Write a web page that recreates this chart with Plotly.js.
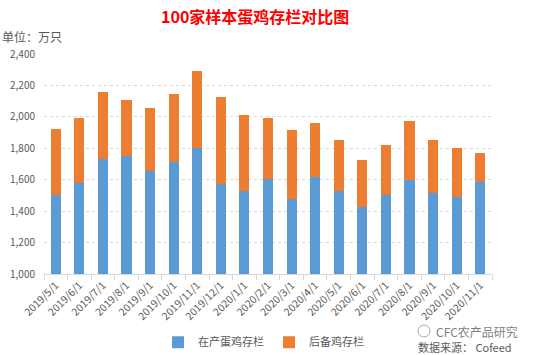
<!DOCTYPE html>
<html><head><meta charset="utf-8">
<script src="https://cdn.plot.ly/plotly-3.0.1.min.js"></script>
<style>body{margin:0;background:#fff}#c{width:535px;height:355px}</style>
</head><body><div id="c"></div>
<script>
const categories = ["2019/5/1","2019/6/1","2019/7/1","2019/8/1","2019/9/1","2019/10/1","2019/11/1","2019/12/1","2020/1/1","2020/2/1","2020/3/1","2020/4/1","2020/5/1","2020/6/1","2020/7/1","2020/8/1","2020/9/1","2020/10/1","2020/11/1"];
const layingHens = [1505,1579,1732,1749,1653,1713,1804,1573,1530,1607,1475,1615,1530,1426,1505,1596,1513,1488,1583];
const reserveHens = [420,414,426,360,401,435,488,554,480,386,439,348,323,300,318,380,340,316,185];
const yTicks = [1000,1200,1400,1600,1800,2000,2200,2400];
const yTickText = ["1,000","1,200","1,400","1,600","1,800","2,000","2,200","2,400"];

const font = "Microsoft YaHei, 'Noto Sans CJK SC', sans-serif";
const data = [
  {type:"bar", name:"在产蛋鸡存栏", x:categories, y:layingHens, marker:{color:"#5B9BD5"}},
  {type:"bar", name:"后备鸡存栏", x:categories, y:reserveHens, marker:{color:"#ED7D31"}}
];
const layout = {
  width:535, height:355,
  margin:{l:44, r:43, t:54, b:81, autoexpand:false},
  paper_bgcolor:"#fff", plot_bgcolor:"#fff",
  barmode:"stack", bargap:0.57,
  font:{family:font, color:"#595959", size:11},
  showlegend:true,
  legend:{orientation:"h", x:0.49, xanchor:"center", y:-0.31, yanchor:"middle", font:{size:11, color:"#595959"}, itemwidth:30, traceorder:"normal", tracegroupgap:0},
  xaxis:{type:"category", tickangle:-45, ticks:"outside", tickson:"boundaries", ticklen:5, tickcolor:"#D9D9D9", automargin:false,
         showline:true, linecolor:"#D9D9D9", showgrid:false, tickfont:{size:10.5, color:"#595959"}},
  yaxis:{range:[1000,2400], tickvals:yTicks, ticktext:yTickText, showgrid:true, gridcolor:"#D9D9D9", griddash:"dot",
         zeroline:false, showline:false, tickfont:{size:10, color:"#595959"}, ticklabelstandoff:8, automargin:false},
  annotations:[
    {text:"<b>100家样本蛋鸡存栏对比图</b>", xref:"paper", yref:"paper", x:0.47, y:1, yshift:38, xanchor:"center", yanchor:"middle", showarrow:false, font:{size:16, color:"#FF0000", family:font}},
    {text:"单位：万只", xref:"paper", yref:"paper", x:0, xshift:-44, y:1, yshift:18, xanchor:"left", yanchor:"middle", showarrow:false, font:{size:12, color:"#595959"}},
    {text:"CFC农产品研究", xref:"paper", yref:"paper", x:1, xshift:28, y:0, yshift:-57, xanchor:"right", yanchor:"middle", showarrow:false, font:{size:12, color:"#7F7F7F"}},
    {text:"数据来源： Cofeed", xref:"paper", yref:"paper", x:1, xshift:22, y:0, yshift:-73, xanchor:"right", yanchor:"middle", showarrow:false, font:{size:11, color:"#595959"}}
  ],
  shapes:[
    {type:"circle", xref:"paper", yref:"paper", xsizemode:"pixel", ysizemode:"pixel", xanchor:1, yanchor:0,
     x0:-74, x1:-62, y0:-63, y1:-51, line:{color:"#A6A6A6", width:1}}
  ]
};
Plotly.newPlot("c", data, layout, {staticPlot:true, displayModeBar:false});
</script></body></html>
